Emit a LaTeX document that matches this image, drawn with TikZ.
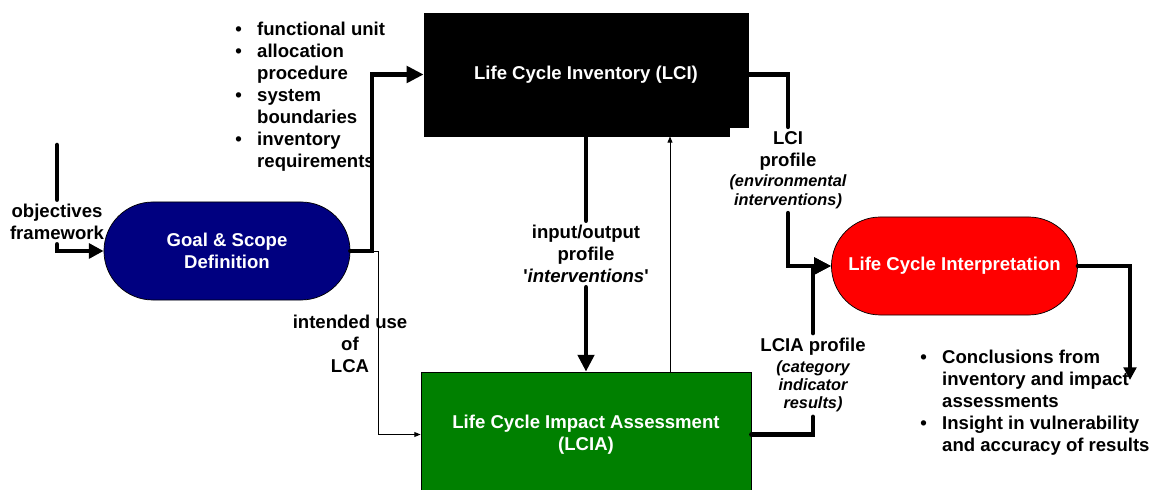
\documentclass[tikz,border=0pt]{standalone}
\usepackage{fontspec}
\setmainfont{Liberation Sans}
\usetikzlibrary{arrows.meta}
\definecolor{goalblue}{HTML}{000080}
\definecolor{lciagreen}{HTML}{008000}
\definecolor{interpred}{HTML}{FF0000}
\newcommand\bul{\makebox[15.6pt][l]{\textbullet}}
\newcommand\ind{\hspace*{15.6pt}}
\newcommand\itsmall{\fontsize{11.6}{13.5}\selectfont\itshape}

\tikzset{
  stage/.style={draw=black, line width=0.5pt, text=white, align=center, inner sep=0pt},
  pill/.style={stage, rounded corners=1.225cm, minimum width=6.15cm, minimum height=2.45cm},
  flowtext/.style={align=center, inner sep=3pt},
  heavy/.style={line width=3.2pt, line cap=round},
  heavyarrow/.style={heavy, -{Triangle[length=12pt,width=11.5pt]}},
  light/.style={line width=0.7pt},
  lightarrow/.style={light, -{Triangle[length=4.5pt,width=3.5pt]}},
}

\begin{document}
\begin{tikzpicture}[x=0.025cm, y=-0.025cm,
  every node/.style={font=\fontsize{13.2}{15.6}\selectfont\bfseries}]
\useasboundingbox (0,0) rectangle (1160,490);
\clip (0,0) rectangle (1160,490);
% ---------- stages ----------
\node[pill, fill=goalblue] (goal) at (227,251) {Goal \& Scope\\Definition};
\node[stage, fill=black, minimum width=8.1cm, minimum height=3.075cm] (lci) at (586,74.5) {Life Cycle Inventory (LCI)};
\fill[white] ([xshift=-0.45cm, yshift=-0.5pt]lci.south east) rectangle ([xshift=0.5pt, yshift=0.2cm]lci.south east);
\node[stage, fill=lciagreen, minimum width=8.25cm, minimum height=3.125cm] (lcia) at (586,434.5) {Life Cycle Impact Assessment\\(LCIA)};
\node[pill, fill=interpred] (interp) at (954.5,266) {Life Cycle Interpretation};
% ---------- labels ----------
\node[flowtext] (objlbl) at (57,222) {objectives\\framework};
\node[flowtext] (iolbl) at (586,254) {input/output\\profile\\\textquotesingle\textit{interventions}\textquotesingle};
\node[flowtext] (lcilbl) at (788,170) {LCI\\profile\\[-1.4pt]{\itsmall (environmental}\\[-2.1pt]{\itsmall interventions)}};
\node[flowtext] (lcialbl) at (813,375) {LCIA profile\\{\itsmall (category}\\[-2.8pt]{\itsmall indicator}\\[-2.8pt]{\itsmall results)}};
\node[flowtext] (uselbl) at (350,344) {intended use\\of\\LCA};
% bullet lists
\node[flowtext, align=left, anchor=north west, inner sep=0pt] (inputs) at (235,22)
  {\bul functional unit\\ \bul allocation\\ \ind procedure\\ \bul system\\ \ind boundaries\\ \bul inventory\\ \ind requirements};
\node[flowtext, align=left, anchor=north west, inner sep=0pt] (outcomes) at (920,350)
  {\bul Conclusions from\\ \ind inventory and impact\\ \ind assessments\\ \bul Insight in vulnerability\\ \ind and accuracy of results};
% ---------- connectors ----------
\coordinate (objtop) at (57,145);
\coordinate (gbend) at (372,251);
\coordinate (ubend) at (378,251);
\coordinate (fback) at (670,300);
\coordinate (cend) at (1130,380);
\draw[heavy] (objtop) -- (objlbl.north);
\draw[heavy, -{Triangle[length=10.5pt,width=10.5pt]}] (objlbl.south) |- (goal.west);
\draw[lightarrow] (goal.east) -- (ubend) |- (lcia.west);
\draw[heavyarrow] (goal.east) -- (gbend) |- (lci.west);
\draw[heavy] (lci.south -| iolbl) -- (iolbl.north);
\draw[heavyarrow] (iolbl.south) -- (lcia.north -| iolbl);
\draw[lightarrow] (lcia.north -| fback) -- (lci.south -| fback);
\draw[heavy] (lci.east) -| (lcilbl.north);
\draw[heavyarrow] (lcilbl.south) |- (interp.west);
\draw[heavy] (lcia.east) -| (lcialbl.south);
\draw[heavyarrow] (lcialbl.north) |- (interp.west);
\draw[heavy, -{Triangle[length=9pt,width=9pt]}] (interp.east) -| (cend);
\end{tikzpicture}
\end{document}
